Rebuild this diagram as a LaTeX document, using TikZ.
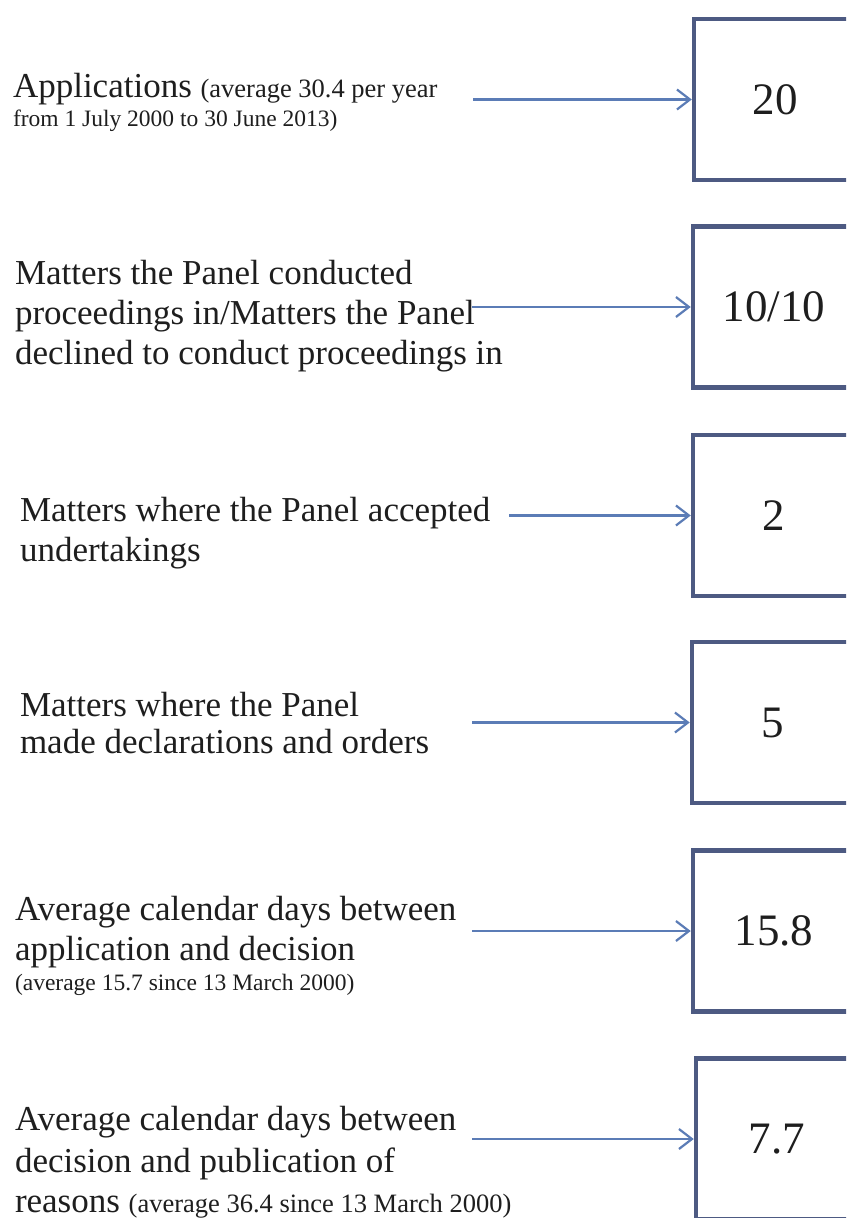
\documentclass[tikz,border=0pt]{standalone}
\usepackage{fontspec}
\setmainfont{Liberation Serif}
\usetikzlibrary{arrows.meta}
\definecolor{boxcol}{HTML}{4D5A82}
\definecolor{arrcol}{HTML}{5B7CB6}
\definecolor{txtcol}{HTML}{1E1E1E}
\newcommand\LabelBig{\fontsize{35}{40}\selectfont}
\newcommand\LabelSmall{\fontsize{23.5}{28}\selectfont}
\newcommand\LabelInline{\fontsize{26.5}{30}\selectfont}
\newcommand\NumFont{\fontsize{45}{50}\selectfont}
\begin{document}
\begin{tikzpicture}[x=1pt,y=-1pt,
  lbl/.style={anchor=base west, inner sep=0pt, outer sep=0pt, text=txtcol, font=\LabelBig},
  sml/.style={lbl, font=\LabelSmall},
  numbox/.style={draw=boxcol, line width=4.5pt, minimum width=162pt, minimum height=161pt,
    inner sep=0pt, font=\NumFont, text=txtcol},
  conn/.style={draw=arrcol, line width=2.2pt, -{Straight Barb[length=13pt,width=20pt]}}]
\useasboundingbox (0,0) rectangle (846,1218);
\fill[white] (0,0) rectangle (846,1218);
\clip (0,0) rectangle (846,1218);

% boxes
\node[numbox] (b1) at (775,99.5) {20};
\node[numbox] (b2) at (774,307) {10/10};
\node[numbox] (b3) at (774,515.5) {2};
\node[numbox] (b4) at (773,722.5) {5};
\node[numbox] (b5) at (774,931) {15.8};
\node[numbox] (b6) at (777,1139) {7.7};

% labels
\node[lbl] (t1a) at (13,97) {Applications {\LabelInline (average 30.4 per year}};
\node[sml] (t1b) at (13,126) {from 1 July 2000 to 30 June 2013)};

\node[lbl] (t2a) at (15,284) {Matters the Panel conducted};
\node[lbl] (t2b) at (15,324) {proceedings in/Matters the Panel};
\node[lbl] (t2c) at (15,364) {declined to conduct proceedings in};

\node[lbl] (t3a) at (20,521) {Matters where the Panel accepted};
\node[lbl] (t3b) at (20,561) {undertakings};

\node[lbl] (t4a) at (20,716) {Matters where the Panel};
\node[lbl] (t4b) at (20,753) {made declarations and orders};

\node[lbl] (t5a) at (15,920) {Average calendar days between};
\node[lbl] (t5b) at (15,960) {application and decision};
\node[sml] (t5c) at (15,990) {(average 15.7 since 13 March 2000)};

\node[lbl] (t6a) at (15,1130) {Average calendar days between};
\node[lbl] (t6b) at (15,1172) {decision and publication of};
\node[lbl] (t6c) at (15,1212) {reasons {\LabelInline (average 36.4 since 13 March 2000)}};

% arrow starts
\coordinate (s1) at (473,99.5);
\coordinate (s2) at (472,307);
\coordinate (s3) at (509,515.5);
\coordinate (s4) at (472,722.5);
\coordinate (s5) at (472,931);
\coordinate (s6) at (472,1139);

\draw[conn] (s1) -- (b1.west);
\draw[conn] (s2) -- (b2.west);
\draw[conn] (s3) -- (b3.west);
\draw[conn] (s4) -- (b4.west);
\draw[conn] (s5) -- (b5.west);
\draw[conn] (s6) -- (b6.west);
\end{tikzpicture}
\end{document}
